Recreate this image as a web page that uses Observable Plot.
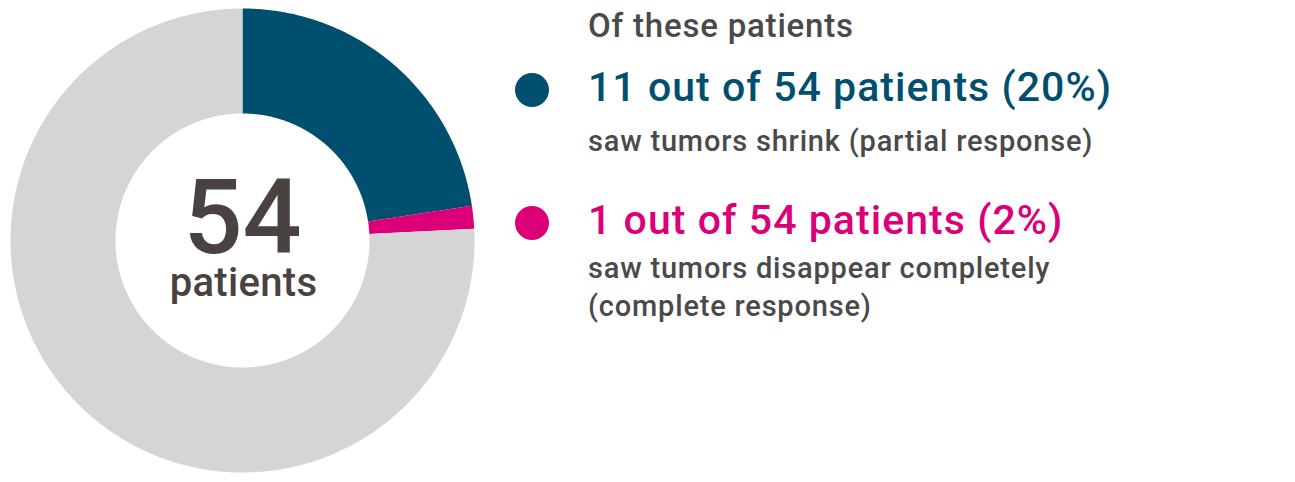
<!DOCTYPE html>
<html>
<head>
<meta charset="utf-8">
<script src="https://cdn.jsdelivr.net/npm/d3@7"></script>
<script src="https://cdn.jsdelivr.net/npm/@observablehq/plot@0.6"></script>
<style>
  html, body { margin: 0; padding: 0; background: #fff; }
  #wrap { position: relative; width: 1295px; height: 482px; overflow: hidden; font-family: Roboto, "Liberation Sans", sans-serif; }
  #chart { position: absolute; left: 0; top: 0; }
  #legend { position: absolute; left: 0; top: 0; width: 1295px; height: 482px; }
  .txt { position: absolute; left: 588px; font-weight: 500; white-space: nowrap; }
  .bullet { position: absolute; width: 34px; height: 34px; border-radius: 50%; }
</style>
</head>
<body>
<div id="wrap">
  <div id="chart"></div>
  <div id="legend"></div>
</div>
<script>
// ---- data ----
const categories = ["Partial response", "Complete response", "No response"];
// share of the ring (percent of arc)
const shares = [22.6, 1.6, 75.8];
const colors = ["#004f6e", "#dc0078", "#d5d5d5"];
const totalLabel = "54";
const totalUnit = "patients";
const legendHeading = "Of these patients";
const legendTitles = ["11 out of 54 patients (20%)", "1 out of 54 patients (2%)"];
const legendSubs = ["saw tumors shrink (partial response)", "saw tumors disappear completely<br>(complete response)"];

// ---- build ring slices from the data ----
const innerRatio = 127 / 232;
const pie = d3.pie().sort(null).value(d => d.share);
const rows = categories.map((c, i) => ({category: c, share: shares[i]}));
const arcs = pie(rows);
function ringPolygon(a) {
  const n = Math.max(8, Math.ceil((a.endAngle - a.startAngle) / 0.01));
  const outer = d3.range(n + 1).map(k => {
    const t = a.startAngle + (a.endAngle - a.startAngle) * k / n;
    return [Math.sin(t), -Math.cos(t)];
  });
  const inner = outer.map(([x, y]) => [x * innerRatio, y * innerRatio]).reverse();
  const ring = outer.concat(inner);
  ring.push(ring[0]);
  return {type: "Feature", properties: {category: a.data.category}, geometry: {type: "Polygon", coordinates: [ring]}};
}
const features = arcs.map(ringPolygon);

const W = 484, H = 482;
const plot = Plot.plot({
  width: W,
  height: H,
  margin: 0,
  marginBottom: 2,
  projection: {
    type: "identity",
    domain: {type: "MultiPoint", coordinates: [[-W / 2 / 232, -240 / 232], [W / 2 / 232, 240 / 232]]}
  },
  color: {domain: categories, range: colors},
  marks: [
    Plot.geo(features, {fill: d => d.properties.category, stroke: "none"}),
    Plot.text([totalLabel], {frameAnchor: "middle", text: d => d, fontSize: 104, fontWeight: 500, fill: "#4a4240", dy: -21}),
    Plot.text([totalUnit], {frameAnchor: "middle", text: d => d, fontSize: 40, fontWeight: 500, fill: "#4a4240", dy: 43, dx: 1})
  ]
});
plot.style.fontFamily = "Roboto, 'Liberation Sans', sans-serif";
plot.querySelectorAll("text").forEach(t => { if (t.textContent === totalUnit) t.setAttribute("letter-spacing", "0.3"); });
document.getElementById("chart").appendChild(plot);

// ---- legend ----
const legend = document.getElementById("legend");
function addText(html, top, size, color, spacing, lineHeight) {
  const el = document.createElement("div");
  el.className = "txt";
  el.style.top = top + "px";
  el.style.fontSize = size + "px";
  el.style.lineHeight = (lineHeight || size) + "px";
  el.style.letterSpacing = spacing + "px";
  el.style.color = color;
  el.innerHTML = html;
  legend.appendChild(el);
}
addText(legendHeading, 9, 33, "#4a4a4a", 0.8);
const titleTops = [66.5, 200];
const subTops = [121.5, 249];
const bulletTops = [73, 206];
legendTitles.forEach((t, i) => {
  const b = document.createElement("div");
  b.className = "bullet";
  b.style.background = colors[i];
  b.style.left = "515px";
  b.style.top = bulletTops[i] + "px";
  legend.appendChild(b);
  addText(t, titleTops[i], 41, colors[i], 1.05);
  addText(legendSubs[i], subTops[i], 29, "#4a4a4a", 0.8, 38);
});
</script>
</body>
</html>
